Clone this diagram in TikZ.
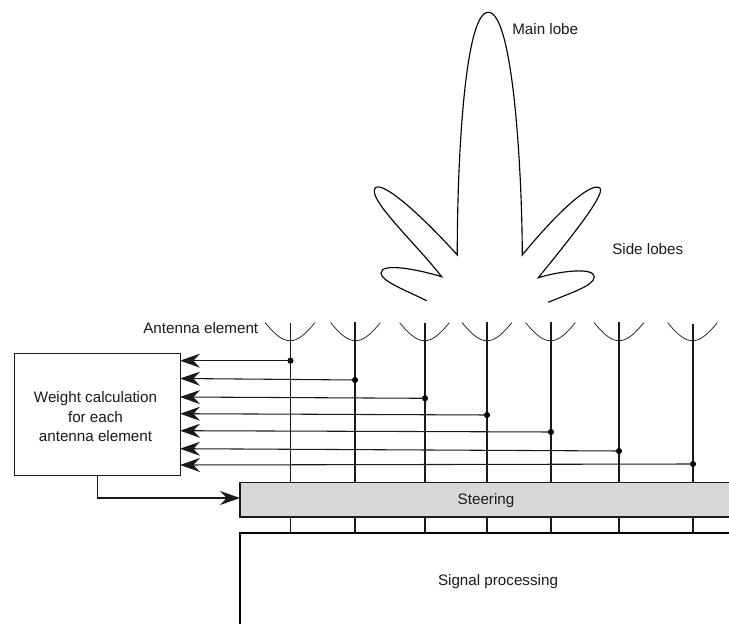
\documentclass[tikz,border=0pt]{standalone}
\usepackage{fontspec}
\setmainfont{Liberation Sans}
\usetikzlibrary{arrows.meta}
\definecolor{steelgray}{HTML}{D9D8D6}
\definecolor{ink}{HTML}{1A1A1A}
\tikzset{
  line/.style={draw=ink,line width=0.8pt},
  lobe/.style={draw=black,line width=0.85pt,line join=miter},
  dish/.style={draw=ink,line width=0.55pt},
  feed/.style={line,-{Stealth[length=15pt,width=10.5pt,inset=5pt]}},
  junction/.style={circle,fill=black,inner sep=0pt,minimum size=4.6pt},
  label/.style={inner sep=0pt,text=ink,font=\fontsize{11.4}{14.6}\selectfont},
  block/.style={line,inner sep=0pt},
}
\begin{document}
\begin{tikzpicture}[x=0.75pt,y=-0.75pt]
\useasboundingbox (0,0) rectangle (729,624);
% radiation pattern
\draw[lobe] (426.7,300.7) .. controls (405,290) and (381,281) .. (381,273)
  .. controls (381,262) and (420,270) .. (441.7,276.7)
  .. controls (415,243) and (374,205) .. (374.3,191)
  .. controls (375,175) and (415,208) .. (457.3,255)
  .. controls (457,170) and (464,12) .. (488.3,12.3)
  .. controls (513,12) and (522,170) .. (522.3,255)
  .. controls (555,215) and (587,185) .. (598,187.3)
  .. controls (610,188) and (578,229) .. (538.3,277.7)
  .. controls (560,271) and (594,267) .. (594.3,276.7)
  .. controls (594,286) and (570,293) .. (548.3,302.3);
\node[label,anchor=base west] (mainl) at (512,35) {Main lobe};
\node[label,anchor=base west] (sidel) at (612,255) {Side lobes};
\node[label,anchor=base east] (antl) at (258.5,333.3) {Antenna element};
% blocks
\node[block,fill=white,minimum width=166.5*0.75pt,minimum height=122.5*0.75pt,anchor=north west,align=center] (weight) at (13.5,352.7) {};
\node[label,align=center] (weightt) at (95.5,417) {Weight calculation\\for each\\antenna element};
\fill[steelgray] (240,482.5) rectangle (729,517);
\draw[line] (729,482.5) -- (240,482.5) -- (240,517) -- (729,517);
\coordinate (steerW) at (240,498);
\node[label,anchor=base] (steert) at (486,504) {Steering};
\draw[draw=black,line width=1.2pt] (240,624) -- (240,533) -- (729,533);
\node[label,anchor=base] (sigt) at (498,585.3) {Signal processing};
% element axes
\foreach \n/\x/\yy in {1/290.5/323,2/355/322,3/425/323,4/487/322,5/551/322,6/619/322,7/693/324}{
  \coordinate (top\n) at (\x,\yy);
  \coordinate (st\n) at (\x,482.5);
  \coordinate (sb\n) at (\x,517);
  \coordinate (sp\n) at (\x,533);
  \draw[line] (top\n) -- (st\n);
  \draw[line] (sb\n) -- (sp\n);
}
% dishes
\foreach \x in {290,355.5,424.5,487,550.5,619,692.5}{
  \draw[dish] (\x-24.8,322.7) .. controls (\x-14,336) and (\x-7,340.7) .. (\x,340.7)
     .. controls (\x+7,340.7) and (\x+14,336) .. (\x+24.8,322.7);
}
% junctions
\node[junction] (j1) at (290.5,360.7) {};
\node[junction] (j2) at (355,380) {};
\node[junction] (j3) at (425,398.3) {};
\node[junction] (j4) at (487,415) {};
\node[junction] (j5) at (551,432) {};
\node[junction] (j6) at (619,451) {};
\node[junction] (j7) at (693,464) {};
\coordinate (w1) at (180,360.7);
\coordinate (w2) at (180,378.5);
\coordinate (w3) at (180,397);
\coordinate (w4) at (180,413.7);
\coordinate (w5) at (180,430.7);
\coordinate (w6) at (180,448.7);
\coordinate (w7) at (180,465);
\foreach \i in {1,...,7}{ \draw[feed] (j\i.center) -- (w\i); }
\draw[feed] (weight.south) |- (steerW);
\end{tikzpicture}
\end{document}
